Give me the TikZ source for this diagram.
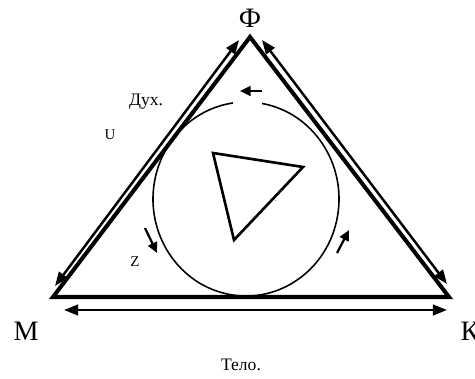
\documentclass[tikz,border=0pt]{standalone}
\usepackage{fontspec}
\setmainfont{Liberation Serif}
\usetikzlibrary{arrows.meta}
\tikzset{
  edge/.style={line width=2.3pt, line join=miter},
  twoway/.style={{Triangle[length=8pt,width=6pt]}-{Triangle[length=8pt,width=6pt]}, line width=1.4pt},
  flow/.style={-{Triangle[length=6pt,width=5.5pt]}, line width=1.3pt},
  corner/.style={font=\fontsize{16}{18}\selectfont},
  note/.style={font=\fontsize{10}{11}\selectfont},
  tag/.style={font=\fontsize{8.5}{9}\selectfont}
}
\begin{document}
\begin{tikzpicture}[x=0.02cm, y=-0.02cm]
  \useasboundingbox (0,0) rectangle (475,378);

  % Corners of the big triangle
  \coordinate (f) at (250,37);
  \coordinate (m) at (53,297);
  \coordinate (k) at (449,297);
  \draw[edge] (f) -- (m) -- (k) -- cycle;

  % Corner labels
  \node[corner] (fl) at (250,18) {Ф};
  \node[corner] (ml) at (26,331) {М};
  \node[corner] (kl) at (470,331) {К};

  % Two-way arrows along the sides
  \coordinate (fm1) at (239,40);
  \coordinate (fm2) at (55,286);
  \coordinate (fk1) at (262,40);
  \coordinate (fk2) at (447,284);
  \coordinate (mk1) at (64,310);
  \coordinate (mk2) at (447,310);
  \draw[twoway] (fm1) -- (fm2);
  \draw[twoway] (fk1) -- (fk2);
  \draw[twoway] (mk1) -- (mk2);

  % Side labels
  \node[note] (dukh) at (146,102) {Дух.};
  \node[tag] (u) at (110,135) {U};
  \node[tag] (z) at (135,262) {Z};
  \node[note] (telo) at (241,365) {Тело.};

  % Circle with a gap at the top
  \draw[line width=0.9pt] (246,199) ++(280:93 and 97) arc[start angle=280, end angle=622, x radius=93, y radius=97];

  % Small arrows round the circle
  \coordinate (t1) at (262,91);
  \coordinate (t2) at (240,91);
  \coordinate (l1) at (145,228);
  \coordinate (l2) at (157,253);
  \coordinate (r1) at (337,253);
  \coordinate (r2) at (349,230);
  \draw[flow] (t1) -- (t2);
  \draw[flow] (l1) -- (l2);
  \draw[flow] (r1) -- (r2);

  % Inner triangle
  \draw[line width=1.5pt, line join=miter] (213,153) -- (303,167) -- (234,240) -- cycle;
  \node[font=\fontsize{4}{4}\selectfont, inner sep=0pt] (pt) at (276,201) {.};
\end{tikzpicture}
\end{document}
